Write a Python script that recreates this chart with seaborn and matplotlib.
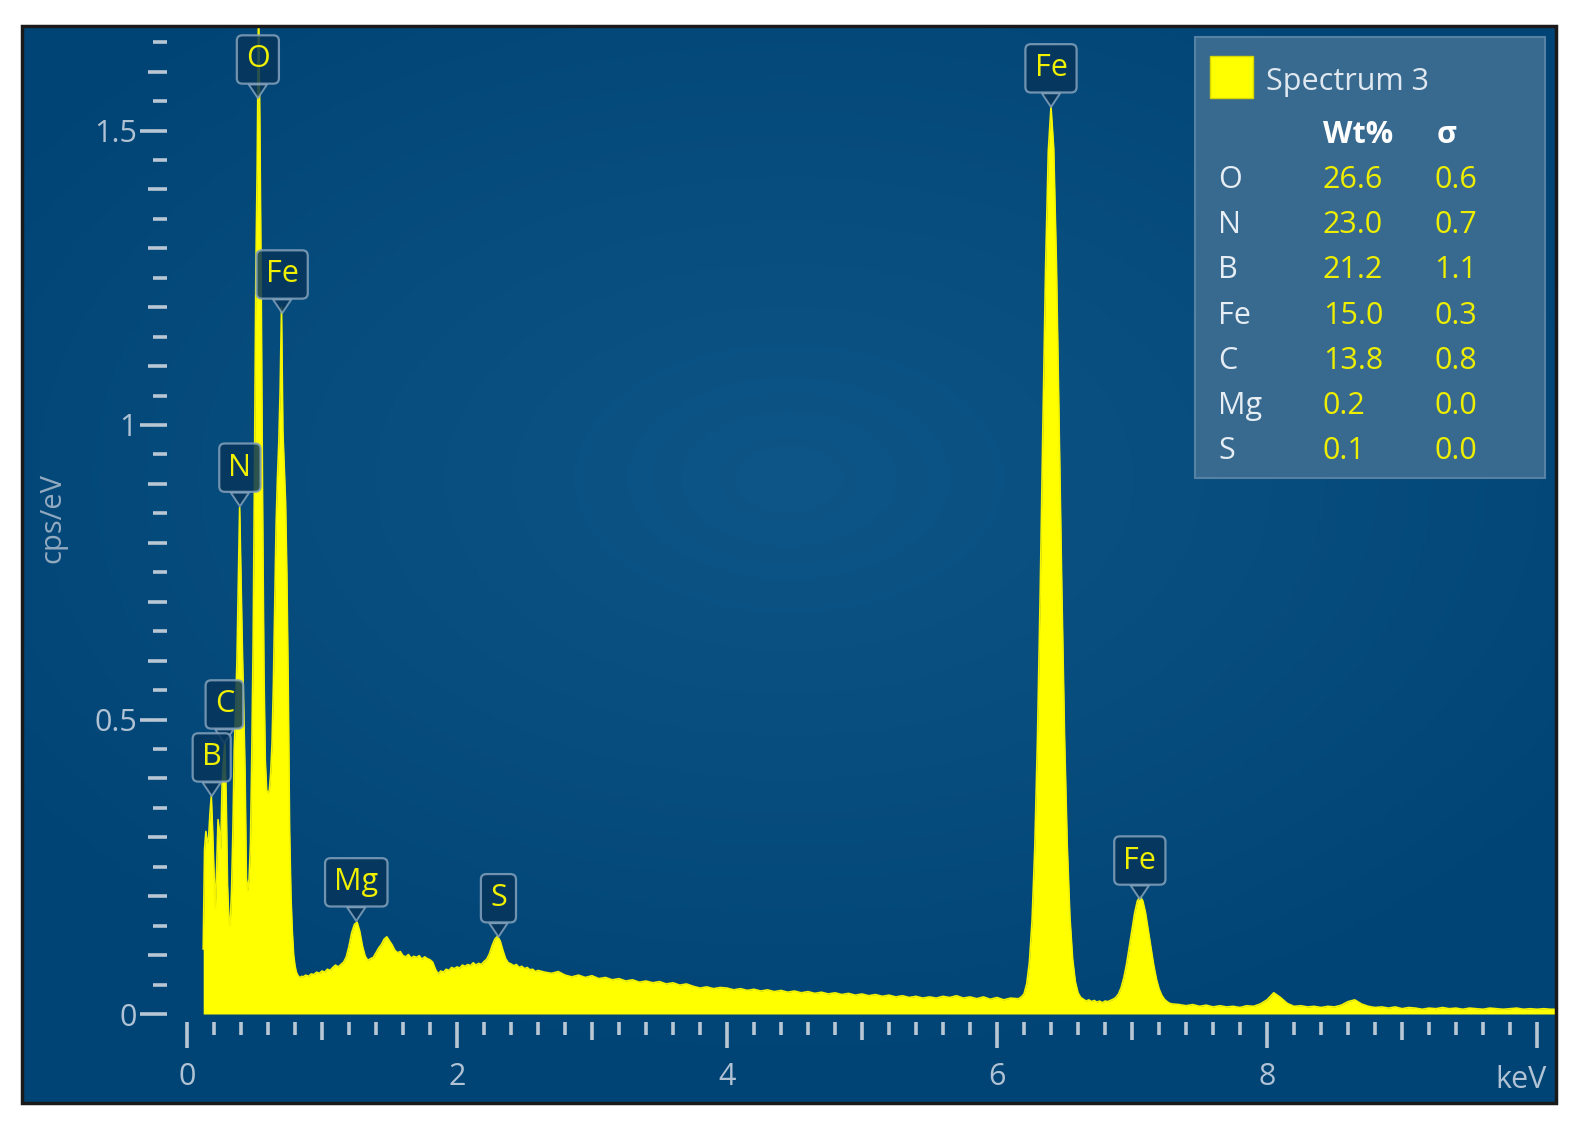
import numpy as np
import matplotlib
matplotlib.use('Agg')
import matplotlib.pyplot as plt
from matplotlib.patches import Rectangle
import seaborn as sns

# EDS spectrum (cps/eV), stored in segments: start keV, step keV, values
low_start, low_step = 0.12, 0.01
low_cps = [0.11, 0.28, 0.31, 0.29, 0.30, 0.34, 0.37, 0.31, 0.24, 0.18,
           0.25, 0.33, 0.31, 0.28, 0.39, 0.43, 0.46, 0.37, 0.22, 0.16,
           0.15, 0.21, 0.31, 0.45, 0.52, 0.60, 0.73, 0.86, 0.74, 0.62,
           0.52, 0.41, 0.23, 0.21, 0.23, 0.29, 0.44, 0.63, 0.92, 1.26,
           1.44, 1.72, 1.50, 1.22, 0.86, 0.58, 0.43, 0.38, 0.375, 0.38,
           0.41, 0.46, 0.56, 0.70, 0.83, 0.91, 0.97, 1.06, 1.20, 0.99,
           0.93, 0.87, 0.74, 0.55, 0.31, 0.20, 0.14, 0.10, 0.082, 0.071,
           0.066, 0.063, 0.062, 0.064]
mid_start, mid_step = 0.86, 0.02
mid_cps = [0.063, 0.066, 0.064, 0.068, 0.067, 0.071, 0.069, 0.073, 0.071, 0.076,
           0.074, 0.079, 0.083, 0.080, 0.084, 0.088, 0.097, 0.115, 0.138, 0.152,
           0.156, 0.140, 0.115, 0.098, 0.091, 0.094, 0.096, 0.104, 0.112, 0.118,
           0.127, 0.131, 0.124, 0.117, 0.108, 0.104, 0.106, 0.099, 0.097, 0.101,
           0.095, 0.098, 0.096, 0.099, 0.093, 0.097, 0.094, 0.092, 0.088, 0.076,
           0.068, 0.073, 0.071, 0.076, 0.074, 0.079, 0.077, 0.080, 0.078, 0.083,
           0.081, 0.084, 0.082, 0.087, 0.083, 0.086, 0.084, 0.089, 0.093, 0.102,
           0.116, 0.127, 0.132, 0.124, 0.108, 0.094, 0.087, 0.085, 0.082, 0.084,
           0.079, 0.081, 0.077, 0.079, 0.075, 0.076, 0.072, 0.074]
cont_start, cont_step = 2.65, 0.05
cont_cps = [0.071, 0.069, 0.072, 0.066, 0.063, 0.066, 0.062, 0.065, 0.060, 0.062,
            0.058, 0.060, 0.056, 0.058, 0.054, 0.056, 0.053, 0.055, 0.051, 0.053,
            0.049, 0.051, 0.047, 0.044, 0.046, 0.043, 0.045, 0.044, 0.041, 0.043,
            0.040, 0.042, 0.039, 0.041, 0.038, 0.040, 0.037, 0.039, 0.036, 0.038,
            0.035, 0.037, 0.034, 0.036, 0.033, 0.035, 0.032, 0.034, 0.031, 0.033,
            0.030, 0.032, 0.029, 0.031, 0.028, 0.030, 0.027, 0.029, 0.027, 0.030,
            0.028, 0.031, 0.027, 0.029, 0.026, 0.029, 0.025, 0.028, 0.024, 0.027,
            0.026]
fe_start, fe_step = 6.16, 0.02
fe_cps = [0.026, 0.029, 0.034, 0.051, 0.088, 0.160, 0.283, 0.470, 0.715, 0.998,
          1.268, 1.465, 1.540, 1.470, 1.275, 1.003, 0.722, 0.474, 0.288, 0.165,
          0.094, 0.055, 0.036, 0.028, 0.025, 0.022, 0.024, 0.021, 0.023, 0.020,
          0.022, 0.019, 0.022, 0.021, 0.023, 0.025, 0.028, 0.034, 0.045, 0.062,
          0.085, 0.114, 0.144, 0.172, 0.192, 0.200, 0.192, 0.172, 0.143, 0.113,
          0.084, 0.060, 0.043, 0.032, 0.025, 0.021, 0.018, 0.017]
tail_start, tail_step = 7.35, 0.05
tail_cps = [0.016, 0.014, 0.016, 0.013, 0.015, 0.012, 0.014, 0.012, 0.013, 0.011,
            0.014, 0.013, 0.017, 0.024, 0.036, 0.028, 0.018, 0.013, 0.014, 0.012,
            0.013, 0.011, 0.013, 0.012, 0.015, 0.021, 0.024, 0.017, 0.013, 0.011,
            0.012, 0.010, 0.012, 0.009, 0.011, 0.010, 0.008, 0.010, 0.009, 0.011,
            0.009, 0.010, 0.008, 0.010, 0.009, 0.008, 0.010, 0.009, 0.008, 0.009,
            0.010, 0.008, 0.009, 0.008, 0.009, 0.008, 0.008]

# peak markers
peak_names = ['C', 'B', 'N', 'O', 'Fe', 'Mg', 'S', 'Fe', 'Fe']
peak_kev = [0.277, 0.183, 0.392, 0.525, 0.705, 1.254, 2.307, 6.40, 7.058]
peak_cps = [0.46, 0.37, 0.862, 1.555, 1.19, 0.158, 0.131, 1.54, 0.195]

# quantification table
elements = ['O', 'N', 'B', 'Fe', 'C', 'Mg', 'S']
wt_pct = [26.6, 23.0, 21.2, 15.0, 13.8, 0.2, 0.1]
wt_sigma = [0.6, 0.7, 1.1, 0.3, 0.8, 0.0, 0.0]

segments = [(low_start, low_step, low_cps), (mid_start, mid_step, mid_cps),
            (cont_start, cont_step, cont_cps), (fe_start, fe_step, fe_cps),
            (tail_start, tail_step, tail_cps)]
energy = np.concatenate([s + st * np.arange(len(v)) for s, st, v in segments])
cps = np.concatenate([np.array(v) for _, _, v in segments])

sns.set_theme(style='white')
plt.rcParams['font.family'] = ['Open Sans', 'DejaVu Sans']

# layout in pixels of the 1588x1124 picture
W, H = 1588, 1124
L, T, R, B = 22, 26, 1556, 1103
X0, KEV = 187, 135.0
Y0, CPSPX = 1014, 589.0

def axy(px, py):
    return (px - L) / (R - L), (B - py) / (B - T)

YELLOW = '#ffff00'
TICK = '#b9c7d4'
LBL = '#b0c2d3'

fig = plt.figure(figsize=(W / 100, H / 100), dpi=100)
fig.patch.set_facecolor('white')
ax = fig.add_axes([L / W, 1 - B / H, (R - L) / W, (B - T) / H])

# radial background
gy, gx = np.mgrid[0:1:300j, 0:1:400j]
r = np.sqrt(((gx - 0.5) / 0.9) ** 2 + ((gy - 0.42) / 0.8) ** 2)
t = np.clip(r / 0.7, 0, 1)[..., None]
inner = np.array([0x0e, 0x56, 0x87]) / 255
outer = np.array([0x00, 0x44, 0x75]) / 255
ax.imshow(inner * (1 - t) + outer * t, extent=[0, 1, 0, 1], transform=ax.transAxes,
          aspect='auto', zorder=0, origin='upper')

ax.fill_between(energy, cps, 0, color=YELLOW, lw=0, zorder=2)
sns.lineplot(x=energy, y=cps, ax=ax, color='#f4f400', lw=1.2, zorder=3)

ax.set_xlim((L - X0) / KEV, (R - X0) / KEV)
ax.set_ylim((Y0 - B) / CPSPX, (Y0 - T) / CPSPX)

for s in ax.spines.values():
    s.set_visible(False)
ax.add_patch(Rectangle((0, 0), 1, 1, transform=ax.transAxes, fill=False,
                       ec='#1a1a1a', lw=2.5, zorder=10, clip_on=False))

yspine = axy(167, 0)[0]
xspine = axy(0, 1022)[1]
ax.spines['left'].set_position(('axes', yspine))
ax.spines['bottom'].set_position(('axes', xspine))

ax.set_yticks([0, 0.5, 1, 1.5], ['0', '0.5', '1', '1.5'])
ax.set_yticks([v / 10 for v in range(1, 17) if v % 5], minor=True)
ax.tick_params(axis='y', which='major', direction='out', length=19.5, width=2.6,
               color=TICK, labelcolor=LBL, labelsize=22, pad=2, left=True)
ax.tick_params(axis='y', which='minor', direction='out', length=13.5, width=2.6,
               color=TICK, left=True)
sec_y = ax.secondary_yaxis(yspine)
sec_y.set_yticks([v / 20 for v in range(1, 34, 2)], labels=[])
sec_y.tick_params(direction='out', length=10, width=2.6, color=TICK, left=True)
for s in sec_y.spines.values():
    s.set_visible(False)

ax.set_xticks([0, 2, 4, 6, 8, 10], ['0', '2', '4', '6', '8', ''])
ax.set_xticks([v / 5 for v in range(1, 50) if v % 5], minor=True)
ax.tick_params(axis='x', which='major', direction='out', length=18.5, width=2.6,
               color=TICK, labelcolor=LBL, labelsize=22, pad=10, bottom=True)
ax.tick_params(axis='x', which='minor', direction='out', length=9.5, width=2.6,
               color=TICK, bottom=True)
sec_x = ax.secondary_xaxis(xspine)
sec_x.set_xticks([1, 3, 5, 7, 9], labels=[])
sec_x.tick_params(direction='out', length=13, width=2.6, color=TICK, bottom=True)
for s in sec_x.spines.values():
    s.set_visible(False)
ax.grid(False)

ax.text(*axy(53, 518), 'cps/eV', rotation=90, ha='center', va='center',
        transform=ax.transAxes, color='#93aac0', fontsize=21)
ax.text(*axy(1521, 1080), 'keV', ha='center', va='center',
        transform=ax.transAxes, color=LBL, fontsize=22)

# peak labels
BOX_FC = '#07355b'
BOX_EC = '#84a2bc'
for name, e, c in zip(peak_names, peak_kev, peak_cps):
    ax.annotate(name, xy=(e, c), xytext=(0, 17), textcoords='offset points',
                ha='center', va='bottom', color='#f0f000', fontsize=22, zorder=6,
                bbox=dict(boxstyle='round,pad=0.3,rounding_size=0.18', fc=BOX_FC,
                          ec=BOX_EC, lw=1.6, alpha=0.85),
                arrowprops=dict(arrowstyle='wedge,tail_width=0.6', fc=BOX_FC, ec=BOX_EC,
                                lw=1.4, alpha=0.85, shrinkA=0, shrinkB=0))

# quantification panel
x0, y0 = axy(1195, 478)
x1, y1 = axy(1545, 37)
ax.add_patch(Rectangle((x0, y0), x1 - x0, y1 - y0, transform=ax.transAxes,
                       fc='#3b6b90', ec='#5884a6', lw=1.5, alpha=0.96, zorder=7))
sx0, sy0 = axy(1210, 98)
sx1, sy1 = axy(1253, 56)
ax.add_patch(Rectangle((sx0, sy0), sx1 - sx0, sy1 - sy0, transform=ax.transAxes,
                       fc=YELLOW, ec='#d6d600', lw=1, zorder=8))
ax.text(*axy(1266, 82), 'Spectrum 3', transform=ax.transAxes, ha='left', va='center',
        color='#dfe8f0', fontsize=22, zorder=8)
ax.text(*axy(1323, 135), 'Wt%', transform=ax.transAxes, ha='left', va='center',
        color='white', fontsize=22, fontweight='bold', zorder=8)
ax.text(*axy(1437, 135), 'σ', transform=ax.transAxes, ha='left', va='center',
        color='white', fontsize=22, fontweight='bold', zorder=8)
for i, (el, w, sg) in enumerate(zip(elements, wt_pct, wt_sigma)):
    yy = 180 + 45.2 * i
    ax.text(*axy(1218, yy), el, transform=ax.transAxes, ha='left', va='center',
            color='#e6edf3', fontsize=22, zorder=8)
    ax.text(*axy(1323, yy), f'{w:.1f}', transform=ax.transAxes, ha='left', va='center',
            color='#eeee00', fontsize=22, zorder=8)
    ax.text(*axy(1434, yy), f'{sg:.1f}', transform=ax.transAxes, ha='left', va='center',
            color='#eeee00', fontsize=22, zorder=8)

fig.savefig('out.png', dpi=100, facecolor='white')
